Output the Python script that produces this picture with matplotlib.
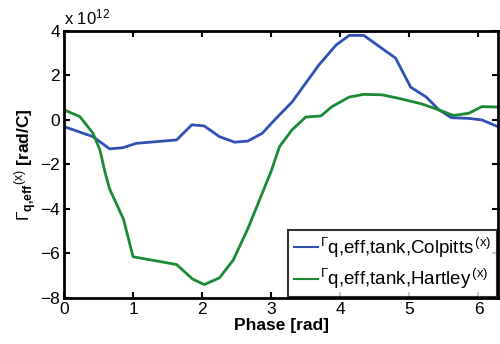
import matplotlib
matplotlib.use('Agg')
import matplotlib.pyplot as plt
import numpy as np

plt.rcParams['font.family'] = ['Liberation Sans', 'DejaVu Sans']
plt.rcParams['mathtext.fontset'] = 'custom'
plt.rcParams['mathtext.rm'] = 'Liberation Sans'
plt.rcParams['mathtext.it'] = 'Liberation Sans:italic'
plt.rcParams['mathtext.bf'] = 'Liberation Sans:bold'

# Colpitts curve (units of 1e12 rad/C)
phase_colpitts = [0.0, 0.42, 0.66, 0.85, 1.05, 1.63, 1.85, 2.03, 2.25, 2.47,
                  2.66, 2.87, 3.07, 3.3, 3.69, 3.94, 4.13, 4.34, 4.8, 5.02,
                  5.24, 5.43, 5.61, 5.86, 6.05, 6.28]
gamma_colpitts = [-0.3, -0.75, -1.3, -1.25, -1.05, -0.9, -0.22, -0.27, -0.75, -1.0,
                  -0.95, -0.6, 0.07, 0.8, 2.47, 3.37, 3.8, 3.8, 2.78, 1.47,
                  1.04, 0.45, 0.1, 0.07, 0.0, -0.3]

# Hartley curve (units of 1e12 rad/C)
phase_hartley = [0.0, 0.23, 0.42, 0.52, 0.59, 0.66, 0.86, 1.0, 1.63, 1.86,
                 2.03, 2.25, 2.45, 2.66, 3.0, 3.12, 3.3, 3.5, 3.72, 3.88,
                 4.13, 4.34, 4.6, 4.85, 5.18, 5.43, 5.64, 5.86, 6.05, 6.28]
gamma_hartley = [0.45, 0.15, -0.6, -1.35, -2.3, -3.1, -4.45, -6.15, -6.5, -7.15,
                 -7.4, -7.1, -6.3, -4.9, -2.3, -1.2, -0.45, 0.13, 0.18, 0.6,
                 1.03, 1.15, 1.13, 0.97, 0.72, 0.45, 0.2, 0.3, 0.6, 0.58]

xticks = [0, 1, 2, 3, 4, 5, 6]
yticks = [-8, -6, -4, -2, 0, 2, 4]

fig = plt.figure(figsize=(5.0, 3.44), dpi=100)
ax = fig.add_axes([0.128, 0.134, 0.868, 0.776])

ax.plot(phase_colpitts, gamma_colpitts, color='#3050b4', lw=2,
        label=r'${}^{\Gamma}$q,eff,tank,Colpitts$^{\,(\mathrm{x})}$')
ax.plot(phase_hartley, gamma_hartley, color='#1a8a34', lw=2,
        label=r'${}^{\Gamma}$q,eff,tank,Hartley$^{\,(\mathrm{x})}$')

ax.set_xlim(0, 2 * np.pi)
ax.set_ylim(-8, 4)
ax.set_xticks(xticks)
ax.set_yticks(yticks)
ax.text(0.0, 1.012, r'x 10$^{12}$', transform=ax.transAxes, fontsize=12,
        ha='left', va='bottom')

ax.tick_params(direction='in', top=True, right=True, labelsize=12.5,
               width=1.5, length=4, pad=3)
for s in ax.spines.values():
    s.set_linewidth(2)

ax.set_xlabel('Phase [rad]', fontsize=12.5, fontweight='bold', labelpad=1)
ax.set_ylabel(r'$\Gamma_{\mathbf{q{,}eff}}{}^{(\mathrm{x})}$ [rad/C]', fontsize=12.5,
              fontweight='bold', labelpad=1)

leg = ax.legend(loc='lower right', fontsize=13.5, frameon=True, fancybox=False,
                borderpad=0.3, handlelength=1.3, handletextpad=0.1,
                labelspacing=0.4, borderaxespad=0.05)
leg.get_frame().set_edgecolor('black')
leg.get_frame().set_linewidth(1.5)
for h in leg.get_lines():
    h.set_linewidth(1.5)

fig.savefig('out.png', dpi=100)
